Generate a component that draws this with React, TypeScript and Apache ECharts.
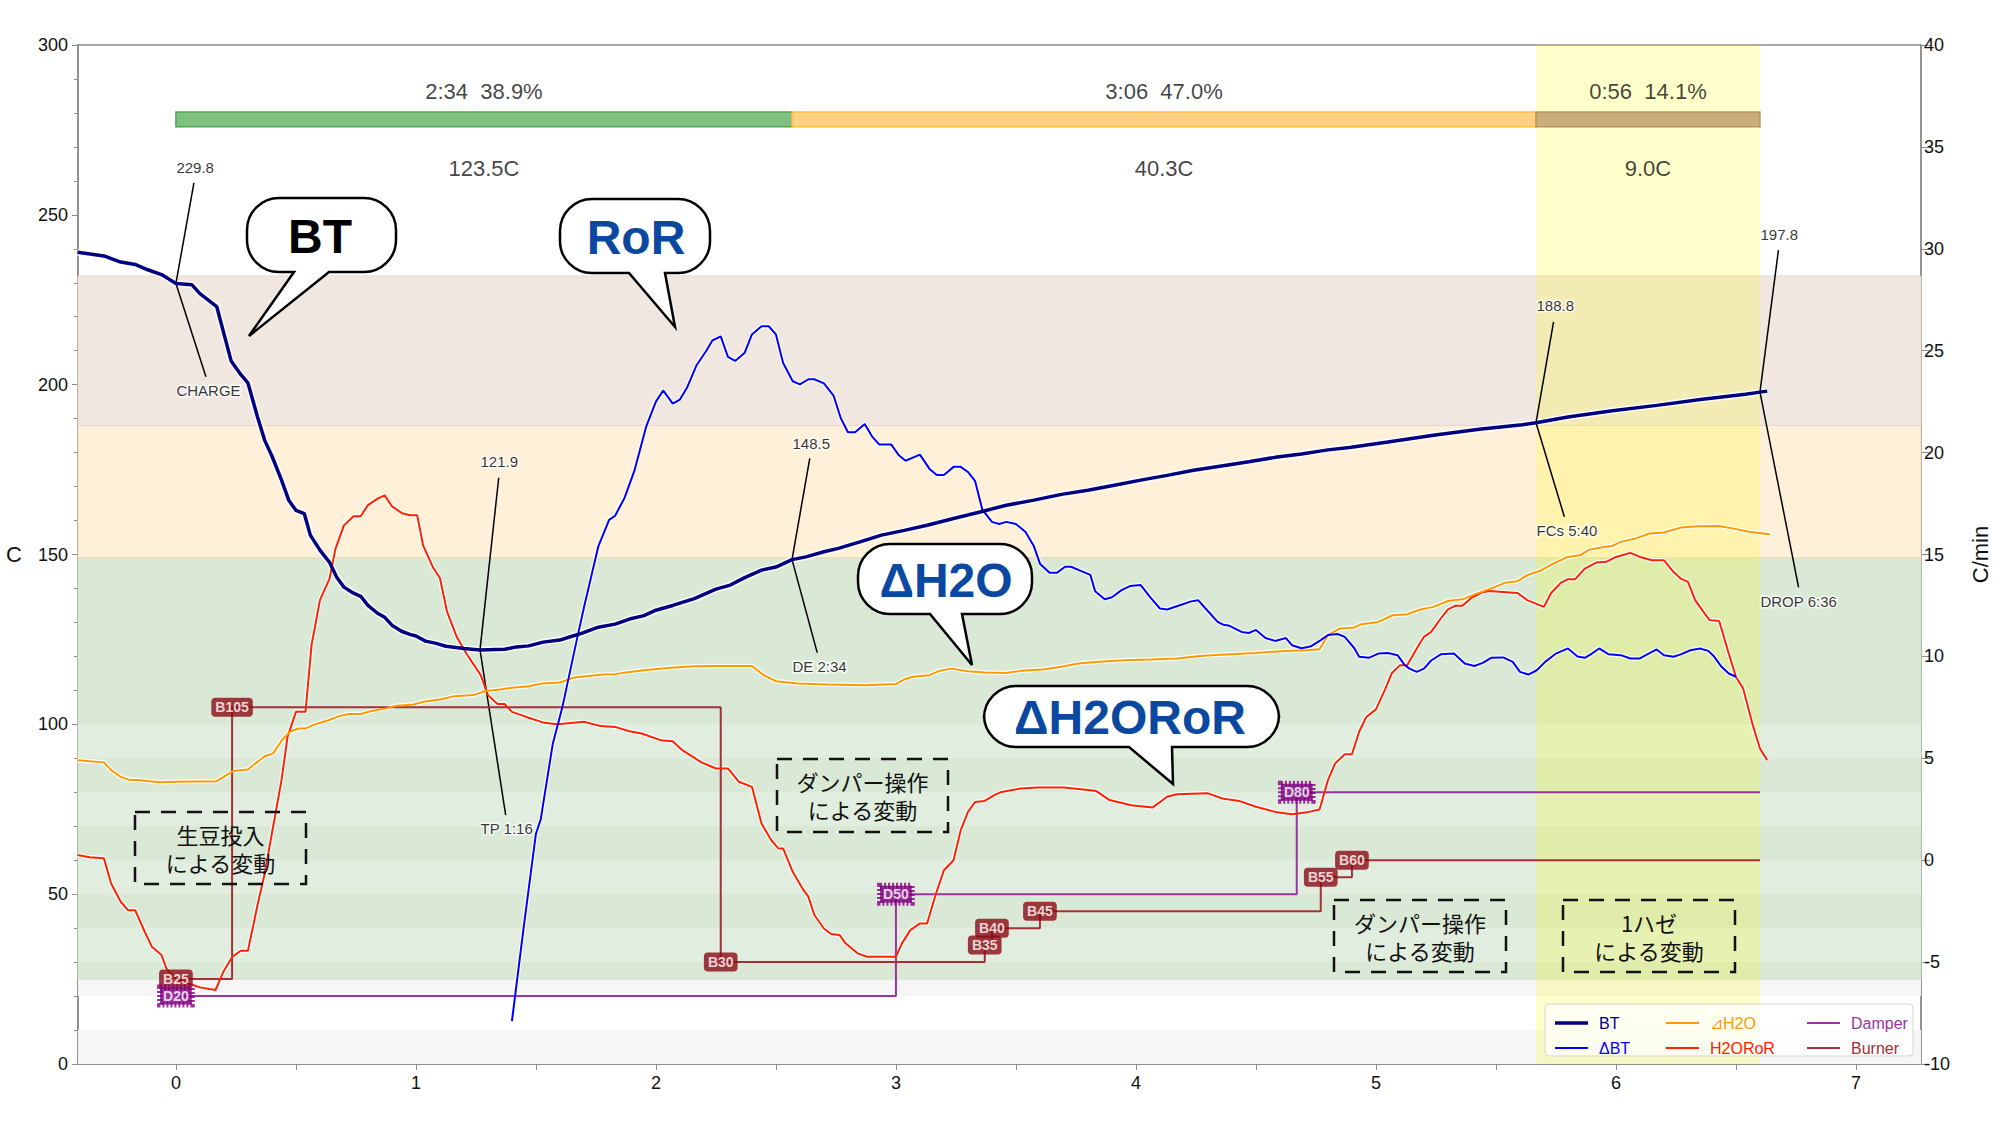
import React, { useEffect, useRef } from "react";
import * as echarts from "echarts";

// ---------------- data ----------------
const btData: number[][] = [[-0.41,239],[-0.30,237.9],[-0.23,236.1],[-0.17,235.4],[-0.12,233.9],[-0.06,232.4],[0,229.8],[0.067,229.4],[0.10,226.8],[0.17,223],[0.20,215],[0.23,207],[0.27,203],[0.30,200.5],[0.34,190.5],[0.37,183.6],[0.40,179],[0.44,171.9],[0.47,166],[0.50,163],[0.535,162],[0.56,155.7],[0.60,151.3],[0.64,147.7],[0.67,143.3],[0.70,140.4],[0.74,138.6],[0.77,137.7],[0.80,135],[0.84,132.7],[0.87,131.5],[0.90,129.2],[0.94,127.4],[0.975,126.5],[1.0,126],[1.04,124.5],[1.08,123.9],[1.125,123],[1.2,122.3],[1.267,121.9],[1.37,122.1],[1.42,122.8],[1.47,123.1],[1.53,124.2],[1.60,124.8],[1.64,125.7],[1.69,126.8],[1.76,128.6],[1.83,129.5],[1.89,131],[1.95,132],[2.0,133.6],[2.07,135],[2.16,137],[2.25,139.8],[2.31,141],[2.37,143.2],[2.44,145.4],[2.50,146.3],[2.567,148.5],[2.625,149.3],[2.70,150.8],[2.76,151.8],[2.85,153.7],[2.94,155.7],[3.035,157.1],[3.13,158.6],[3.24,160.6],[3.35,162.5],[3.46,164.5],[3.575,166],[3.69,167.7],[3.80,168.9],[3.91,170.4],[4.02,171.9],[4.13,173.3],[4.24,174.8],[4.35,176],[4.47,177.3],[4.58,178.6],[4.69,179.6],[4.80,180.8],[4.89,181.5],[5.05,183.1],[5.24,185.1],[5.43,186.9],[5.61,188.2],[5.667,188.8],[5.8,190.5],[5.985,192.3],[6.17,193.9],[6.36,195.7],[6.54,197.2],[6.6,197.8],[6.63,198.1]];

const deltaBtData: number[][] = [[1.40,-7.9],[1.45,-3.2],[1.50,1.3],[1.52,2.0],[1.57,5.7],[1.61,7.5],[1.67,10.8],[1.70,12.4],[1.76,15.4],[1.805,16.7],[1.83,16.9],[1.87,17.8],[1.91,19.1],[1.96,21.3],[2.0,22.5],[2.03,23.05],[2.07,22.4],[2.10,22.6],[2.13,23.2],[2.17,24.3],[2.21,25.0],[2.235,25.5],[2.27,25.7],[2.30,24.7],[2.33,24.5],[2.37,24.9],[2.40,25.8],[2.44,26.2],[2.47,26.2],[2.50,25.8],[2.53,24.4],[2.57,23.5],[2.60,23.35],[2.635,23.6],[2.66,23.6],[2.70,23.4],[2.74,22.8],[2.77,21.7],[2.80,21.0],[2.83,21.0],[2.87,21.4],[2.90,20.8],[2.93,20.4],[2.98,20.4],[3.01,19.9],[3.04,19.6],[3.10,19.9],[3.14,19.2],[3.17,18.9],[3.20,18.9],[3.24,19.3],[3.27,19.3],[3.30,19.05],[3.33,18.6],[3.36,17.2],[3.40,16.6],[3.43,16.5],[3.46,16.6],[3.50,16.5],[3.54,16.1],[3.575,15.4],[3.60,14.55],[3.64,14.1],[3.67,14.1],[3.705,14.4],[3.73,14.4],[3.77,14.2],[3.81,14.0],[3.83,13.2],[3.87,12.8],[3.90,12.9],[3.94,13.25],[3.975,13.45],[4.02,13.5],[4.06,12.9],[4.10,12.35],[4.13,12.3],[4.18,12.5],[4.23,12.7],[4.26,12.75],[4.29,12.35],[4.34,11.7],[4.365,11.55],[4.39,11.5],[4.44,11.2],[4.47,11.15],[4.50,11.3],[4.54,10.9],[4.58,10.76],[4.625,10.9],[4.65,10.55],[4.69,10.4],[4.73,10.5],[4.77,10.8],[4.80,11.05],[4.84,11.1],[4.87,10.96],[4.91,10.4],[4.93,9.98],[4.97,9.93],[5.01,10.14],[5.05,10.17],[5.09,10.06],[5.12,9.57],[5.14,9.4],[5.17,9.24],[5.20,9.4],[5.23,9.8],[5.27,10.1],[5.325,10.14],[5.37,9.65],[5.41,9.53],[5.445,9.68],[5.48,9.93],[5.53,9.95],[5.57,9.73],[5.60,9.24],[5.635,9.11],[5.67,9.32],[5.705,9.73],[5.75,10.14],[5.80,10.39],[5.84,10.0],[5.87,9.93],[5.90,10.14],[5.93,10.39],[5.97,10.1],[6.02,10.06],[6.06,9.9],[6.10,9.9],[6.13,10.1],[6.17,10.34],[6.20,10.06],[6.24,9.98],[6.27,10.1],[6.31,10.3],[6.35,10.39],[6.385,10.27],[6.41,9.98],[6.44,9.49],[6.47,9.16],[6.50,9.0]];

const deltaH2OData: number[][] = [[-0.41,4.91],[-0.30,4.8],[-0.27,4.42],[-0.23,4.09],[-0.19,3.93],[-0.16,3.93],[-0.07,3.82],[0.01,3.85],[0.17,3.88],[0.21,4.17],[0.24,4.38],[0.30,4.45],[0.34,4.83],[0.37,5.1],[0.405,5.24],[0.44,5.86],[0.475,6.3],[0.51,6.46],[0.54,6.46],[0.57,6.63],[0.605,6.76],[0.63,6.84],[0.68,7.07],[0.72,7.17],[0.77,7.17],[0.81,7.31],[0.875,7.45],[0.92,7.58],[0.99,7.64],[1.03,7.77],[1.10,7.89],[1.16,8.05],[1.24,8.1],[1.29,8.3],[1.35,8.38],[1.40,8.46],[1.47,8.54],[1.525,8.67],[1.60,8.72],[1.66,8.97],[1.72,9.04],[1.78,9.11],[1.83,9.13],[1.89,9.24],[1.95,9.32],[2.06,9.44],[2.16,9.52],[2.25,9.53],[2.40,9.53],[2.45,9.08],[2.50,8.78],[2.59,8.67],[2.72,8.62],[2.87,8.59],[3.0,8.64],[3.035,8.87],[3.07,9.0],[3.14,9.08],[3.18,9.29],[3.23,9.4],[3.30,9.27],[3.37,9.21],[3.46,9.19],[3.52,9.29],[3.61,9.36],[3.69,9.49],[3.76,9.65],[3.83,9.73],[3.95,9.81],[4.06,9.85],[4.17,9.9],[4.28,10.03],[4.39,10.11],[4.50,10.17],[4.62,10.27],[4.71,10.3],[4.765,10.35],[4.80,11.04],[4.85,11.37],[4.91,11.42],[4.94,11.58],[5.01,11.69],[5.07,12.02],[5.13,12.07],[5.185,12.3],[5.24,12.43],[5.30,12.72],[5.36,12.8],[5.42,13.08],[5.48,13.33],[5.54,13.62],[5.59,13.69],[5.63,13.98],[5.69,14.23],[5.74,14.56],[5.80,14.88],[5.85,14.96],[5.89,15.24],[5.95,15.37],[5.985,15.42],[6.02,15.62],[6.08,15.78],[6.14,16.03],[6.20,16.08],[6.27,16.32],[6.34,16.39],[6.43,16.4],[6.49,16.27],[6.56,16.1],[6.64,15.99]];

const h2oRorData: number[][] = [[-0.41,0.25],[-0.36,0.14],[-0.30,0.09],[-0.27,-1.14],[-0.23,-2.04],[-0.20,-2.45],[-0.17,-2.45],[-0.13,-3.51],[-0.10,-4.25],[-0.06,-4.65],[-0.04,-5.31],[0,-5.83],[0.05,-6.04],[0.10,-6.24],[0.165,-6.37],[0.20,-5.42],[0.235,-4.74],[0.27,-4.44],[0.30,-4.44],[0.34,-2.2],[0.37,-0.65],[0.41,1.97],[0.44,3.93],[0.465,6.05],[0.50,7.28],[0.54,7.28],[0.565,10.55],[0.60,12.76],[0.64,13.82],[0.665,15.29],[0.70,16.43],[0.74,16.88],[0.77,16.88],[0.80,17.42],[0.84,17.74],[0.87,17.9],[0.90,17.37],[0.94,17.04],[0.975,16.93],[1.005,16.93],[1.03,15.45],[1.07,14.39],[1.10,13.85],[1.13,12.18],[1.17,10.96],[1.21,10.14],[1.27,9.08],[1.30,8.1],[1.34,7.66],[1.37,7.66],[1.40,7.28],[1.46,7.03],[1.535,6.74],[1.59,6.67],[1.70,6.79],[1.77,6.58],[1.83,6.54],[1.89,6.33],[1.94,6.22],[2.02,5.89],[2.07,5.84],[2.11,5.4],[2.19,4.8],[2.25,4.5],[2.30,4.5],[2.345,3.85],[2.40,3.6],[2.44,1.8],[2.48,0.99],[2.51,0.58],[2.53,0.58],[2.57,-0.57],[2.61,-1.38],[2.635,-1.79],[2.66,-2.69],[2.70,-3.35],[2.73,-3.62],[2.765,-3.67],[2.79,-4.08],[2.84,-4.57],[2.88,-4.74],[3.0,-4.74],[3.025,-4.08],[3.06,-3.43],[3.10,-3.1],[3.13,-3.1],[3.165,-1.71],[3.20,-0.49],[3.24,0.0],[3.27,1.48],[3.30,2.37],[3.33,2.86],[3.37,2.91],[3.41,3.19],[3.44,3.35],[3.52,3.52],[3.59,3.57],[3.70,3.57],[3.80,3.44],[3.835,3.39],[3.89,2.95],[3.98,2.7],[4.07,2.59],[4.13,3.11],[4.17,3.24],[4.30,3.28],[4.36,3.03],[4.43,2.91],[4.50,2.62],[4.58,2.37],[4.65,2.25],[4.72,2.37],[4.765,2.49],[4.80,3.93],[4.83,4.75],[4.87,5.2],[4.90,5.2],[4.93,6.3],[4.96,7.03],[5.0,7.4],[5.04,8.43],[5.065,9.16],[5.10,9.57],[5.13,9.57],[5.17,10.39],[5.20,10.96],[5.23,11.2],[5.27,11.86],[5.30,12.31],[5.33,12.48],[5.36,12.48],[5.40,12.89],[5.44,13.13],[5.47,13.21],[5.59,13.11],[5.63,12.76],[5.70,12.43],[5.73,13.11],[5.77,13.61],[5.80,13.79],[5.83,13.79],[5.87,14.31],[5.92,14.61],[5.96,14.64],[6.0,14.88],[6.06,15.08],[6.10,14.88],[6.15,14.72],[6.20,14.72],[6.24,14.14],[6.27,13.82],[6.30,13.66],[6.33,12.76],[6.37,12.1],[6.39,11.78],[6.43,11.74],[6.47,10.14],[6.50,8.99],[6.53,8.43],[6.57,6.63],[6.60,5.48],[6.63,4.91]];

const burnerTimes = [0, 0.234, 2.27, 3.37, 3.40, 3.60, 4.77, 4.90];
const burnerValues = [25, 105, 30, 35, 40, 45, 55, 60];
const damperTimes = [0, 3.0, 4.67];
const damperValues = [20, 50, 80];

const eventNames = ["CHARGE", "TP 1:16", "DE 2:34", "FCs 5:40", "DROP 6:36"];
const eventTimes = [0, 1.267, 2.567, 5.667, 6.6];
const eventTemps = [229.8, 121.9, 148.5, 188.8, 197.8];

const phaseTimes = [0, 2.567, 5.667, 6.6];
const phaseDurations = ["2:34  38.9%", "3:06  47.0%", "0:56  14.1%"];
const phaseDeltas = ["123.5C", "40.3C", "9.0C"];

const xTickLabels = [0, 1, 2, 3, 4, 5, 6, 7];

// ---------------- layout (not data) ----------------
const annTempLabelY = [264, 177.3, 182.7, 223.2, 244.3];
const annEventLabelY = [198.4, 69.3, 116.9, 157.2, 136.3];
const annUpperEnd = [[0.075, 259.4], [1.345, 172.6], [2.641, 178.3], [5.74, 218.5], [6.677, 239.6]];
const annLowerEnd = [[0.125, 202.3], [1.374, 73.3], [2.672, 121.1], [5.785, 161.1], [6.761, 140.3]];

const FONT = '"Liberation Sans", Arial, sans-serif';
const JP = '"Noto Sans CJK JP", "Noto Sans CJK SC", sans-serif';
const NAVY = "#000080";
const BLUE = "#0000ff";
const ORANGE = "#ff9900";
const RED = "#ff2200";
const PURPLE = "#9a34a0";
const BURN = "#a33038";
const BUBBLE_BLUE = "#0b48a0";

const bubbles = [
  { text: "BT", color: "#000", box: [247, 198, 396, 272], tail: [294, 329, 249, 336], cx: 320, cy: 236 },
  { text: "RoR", color: BUBBLE_BLUE, box: [560, 199, 710, 273], tail: [629, 665, 675, 327], cx: 636, cy: 237 },
  { text: "ΔH2O", color: BUBBLE_BLUE, box: [858, 544, 1032, 614], tail: [930, 962, 972, 665], cx: 946, cy: 580 },
  { text: "ΔH2ORoR", color: BUBBLE_BLUE, box: [984, 686, 1279, 747], tail: [1129, 1172, 1173, 784], cx: 1130, cy: 717 },
];

const dashedBoxes = [
  { x: 135, y: 812, w: 171, h: 72, lines: ["生豆投入", "による変動"] },
  { x: 777, y: 759, w: 171, h: 73, lines: ["ダンパー操作", "による変動"] },
  { x: 1334, y: 900, w: 172, h: 72, lines: ["ダンパー操作", "による変動"] },
  { x: 1563, y: 900, w: 172, h: 72, lines: ["1ハゼ", "による変動"] },
];

function bubblePath(box: number[], tail: number[], r: number) {
  const [x0, y0, x1, y1] = box;
  const [a, b, tx, ty] = tail;
  const k = 0.5523 * r;
  return (
    `M${x0 + r},${y0} L${x1 - r},${y0} ` +
    `C${x1 - r + k},${y0} ${x1},${y0 + r - k} ${x1},${y0 + r} ` +
    `L${x1},${y1 - r} C${x1},${y1 - r + k} ${x1 - r + k},${y1} ${x1 - r},${y1} ` +
    `L${b},${y1} L${tx},${ty} L${a},${y1} L${x0 + r},${y1} ` +
    `C${x0 + r - k},${y1} ${x0},${y1 - r + k} ${x0},${y1 - r} ` +
    `L${x0},${y0 + r} C${x0},${y0 + r - k} ${x0 + r - k},${y0} ${x0 + r},${y0} Z`
  );
}

bubbles.forEach((b, i) => {
  echarts.graphic.registerShape("speech" + i, echarts.graphic.extendPath(bubblePath(b.box, b.tail, 32), {}) as any);
});

function stepData(times: number[], values: number[], end: number) {
  const d = times.map((t, i) => [t, values[i]]);
  d.push([end, values[values.length - 1]]);
  return d;
}

function buildOption(): any {
  const dropTime = phaseTimes[3];
  const fcTime = phaseTimes[2];

  const baseLine = (name: string, data: number[][], color: string, width: number, yIdx: number, z: number) => ({
    type: "line", name, data, yAxisIndex: yIdx, showSymbol: false, symbol: "none", silent: true, z,
    lineStyle: { color, width }, itemStyle: { color },
  });
  const halo = (data: number[][], width: number, yIdx: number) => ({
    type: "line", name: "_halo", data, yAxisIndex: yIdx, showSymbol: false, symbol: "none", silent: true, z: 4,
    lineStyle: { color: "rgba(255,255,255,0.9)", width },
  });

  const bandArea = (lo: number, hi: number, color: string, border?: string) => [
    { yAxis: lo, itemStyle: { color, borderColor: border || color, borderWidth: border ? 1 : 0 } },
    { yAxis: hi },
  ];

  const markerLabel = (bg: string, dotted: boolean) => ({
    show: true, position: "inside", formatter: "{b}", color: "#fff", fontWeight: "bold", fontSize: 14,
    fontFamily: FONT, backgroundColor: bg, padding: dotted ? [2, 3, 1, 3] : [3, 4, 2, 4], borderRadius: dotted ? 0 : 4,
    borderColor: dotted ? bg : undefined, borderWidth: dotted ? 3 : 0, borderType: dotted ? [2, 2] : "solid",
  });

  const burnerMarks = burnerTimes.map((t, i) => ({ value: [t, burnerValues[i]], name: "B" + burnerValues[i] }));
  const damperMarks = damperTimes.map((t, i) => ({ value: [t, damperValues[i]], name: "D" + damperValues[i] }));

  const annLabels = [
    ...eventTimes.map((t, i) => ({ value: [t, annTempLabelY[i]], name: eventTemps[i].toFixed(1) })),
    ...eventTimes.map((t, i) => ({ value: [t, annEventLabelY[i]], name: eventNames[i] })),
  ];
  const annLines = eventTimes.flatMap((t, i) => [
    [{ coord: [t, eventTemps[i]] }, { coord: annUpperEnd[i] }],
    [{ coord: [t, eventTemps[i]] }, { coord: annLowerEnd[i] }],
  ]);

  const phaseCenters = phaseDurations.map((_, i) => (phaseTimes[i] + phaseTimes[i + 1]) / 2);
  const phaseTop = phaseCenters.map((c, i) => ({ value: [c, 286.3], name: phaseDurations[i] }));
  const phaseBottom = phaseCenters.map((c, i) => ({ value: [c, 263.5], name: phaseDeltas[i] }));
  const phaseColors = [
    ["#80c080", "#4ea64e"],
    ["#ffd27f", "#ffbd45"],
    ["#c9ae7b", "#b8955c"],
  ];

  const minorTicks: number[] = [];
  for (let v = 0; v <= 7; v += 0.5) minorTicks.push(v);

  const legendCol = (left: number, items: [string, string, number][]) => ({
    orient: "vertical", left, top: 1010, itemWidth: 33, itemHeight: 14, itemGap: 9, selectedMode: false, z: 60,
    textStyle: { fontSize: 16, fontFamily: FONT, padding: [0, 0, 0, 6] },
    data: items.map(([name, color, w]) => ({
      name, textStyle: { color },
      icon: `path://M0,0H33V${w}H0Z`,
      itemStyle: { color },
    })),
  });

  const graphics: any[] = [];
  graphics.push({
    type: "rect", z: 40, silent: true,
    shape: { x: 1545, y: 1004, width: 368, height: 52, r: 4 },
    style: { fill: "rgba(255,255,255,0.72)", stroke: "#d6d6d6", lineWidth: 1 },
  });
  bubbles.forEach((b, i) => {
    graphics.push({ type: "speech" + i, x: 0, y: 0, z: 50, silent: true, style: { fill: "#fff", stroke: "#000", lineWidth: 2.5 } });
    graphics.push({
      type: "text", z: 51, silent: true,
      style: { text: b.text, x: b.cx, y: b.cy, align: "center", verticalAlign: "middle", fill: b.color, font: `bold 48px ${FONT}` },
    });
  });
  dashedBoxes.forEach((d) => {
    graphics.push({
      type: "rect", z: 50, silent: true, shape: { x: d.x, y: d.y, width: d.w, height: d.h },
      style: { fill: "none", stroke: "#111", lineWidth: 2.5, lineDash: [15, 11] },
    });
    d.lines.forEach((line, j) => {
      graphics.push({
        type: "text", z: 51, silent: true,
        style: { text: line, x: d.x + d.w / 2, y: d.y + 22 + j * 28, align: "center", verticalAlign: "middle", fill: "#111", font: `22px ${JP}` },
      });
    });
  });

  return {
    animation: false,
    backgroundColor: "#fff",
    textStyle: { fontFamily: FONT },
    grid: { left: 78, right: 79, top: 45, bottom: 65, show: true, borderColor: "#8c8c8c", borderWidth: 1.5, backgroundColor: "transparent" },
    legend: [
      legendCol(1550, [["BT", NAVY, 3.5], ["ΔBT", BLUE, 2]]),
      legendCol(1661, [["⊿H2O", ORANGE, 2], ["H2ORoR", RED, 2]]),
      legendCol(1802, [["Damper", PURPLE, 2], ["Burner", BURN, 2]]),
    ],
    xAxis: {
      type: "value", min: -0.408, max: 7.271, position: "bottom",
      axisLine: { show: true, onZero: false, lineStyle: { color: "#8c8c8c", width: 1.5 } },
      axisTick: { show: true, customValues: minorTicks, length: 6, lineStyle: { color: "#8c8c8c" } },
      axisLabel: { customValues: xTickLabels, fontSize: 18, color: "#111", margin: 10 },
      splitLine: { show: false },
    },
    yAxis: [
      {
        type: "value", min: 0, max: 300, interval: 50, position: "left",
        name: "C", nameLocation: "middle", nameGap: 56, nameRotate: 0, nameTextStyle: { fontSize: 22, color: "#111" },
        axisLine: { show: true, onZero: false, lineStyle: { color: "#8c8c8c", width: 1.5 } },
        axisTick: { show: true, length: 6, lineStyle: { color: "#8c8c8c" } },
        minorTick: { show: true, splitNumber: 5, length: 4, lineStyle: { color: "#8c8c8c" } },
        axisLabel: { fontSize: 18, color: "#111", margin: 10 },
        splitLine: { show: false },
      },
      {
        type: "value", min: -10, max: 40, interval: 5, position: "right",
        name: "C/min", nameLocation: "middle", nameGap: 48, nameRotate: 90, nameTextStyle: { fontSize: 22, color: "#111" },
        axisLine: { show: true, onZero: false, lineStyle: { color: "#8c8c8c", width: 1.5 } },
        axisTick: { show: true, length: 9, lineStyle: { color: "#8c8c8c" } },
        axisLabel: { fontSize: 18, color: "#111", margin: 3 },
        splitLine: { show: false },
      },
    ],
    graphic: graphics,
    series: [
      {
        type: "line", name: "_bands", data: [], yAxisIndex: 0, z: 1, silent: true,
        markArea: {
          silent: true,
          data: [
            bandArea(0, 10, "#f6f6f6"),
            bandArea(20, 25, "#f6f6f6"),
            bandArea(25, 149, "#d9e9d5", "#cfe2cb"),
            bandArea(30, 40, "#e1eedf"),
            bandArea(50, 60, "#e1eedf"),
            bandArea(70, 80, "#e1eedf"),
            bandArea(90, 100, "#e1eedf"),
            bandArea(149, 188, "#fff1d9", "#ead6b2"),
            bandArea(188, 232, "#f0e7e1", "#e7d8cc"),
          ],
        },
      },
      {
        type: "line", name: "_fc", data: [], yAxisIndex: 0, z: 2, silent: true,
        markArea: { silent: true, data: [[{ xAxis: fcTime, itemStyle: { color: "rgba(255,255,0,0.2)" } }, { xAxis: dropTime }]] },
      },
      {
        type: "line", name: "_phases", data: [], yAxisIndex: 0, z: 3, silent: true,
        markArea: {
          silent: true,
          data: phaseDurations.map((_, i) => [
            { xAxis: phaseTimes[i], yAxis: 275.9, itemStyle: { color: phaseColors[i][0], borderColor: phaseColors[i][1], borderWidth: 1.5 } },
            { xAxis: phaseTimes[i + 1], yAxis: 280.3 },
          ]),
        },
      },
      halo(h2oRorData, 4.5, 1),
      halo(deltaH2OData, 4.5, 1),
      halo(deltaBtData, 4.5, 1),
      halo(btData, 6.5, 0),
      { ...baseLine("Damper", stepData(damperTimes, damperValues, dropTime), PURPLE, 2, 0, 5), step: "end" },
      { ...baseLine("Burner", stepData(burnerTimes, burnerValues, dropTime), BURN, 2, 0, 5), step: "end" },
      baseLine("H2ORoR", h2oRorData, RED, 2, 1, 6),
      baseLine("⊿H2O", deltaH2OData, ORANGE, 2, 1, 6),
      baseLine("ΔBT", deltaBtData, BLUE, 2, 1, 6),
      {
        ...baseLine("BT", btData, NAVY, 3.5, 0, 7),
        markLine: {
          silent: true, symbol: ["none", "none"], label: { show: false },
          lineStyle: { color: "#000", width: 1.5, type: "solid" },
          emphasis: { disabled: true },
          data: annLines,
        },
      },
      {
        type: "scatter", name: "_phaseText", yAxisIndex: 0, z: 8, silent: true, symbolSize: 1,
        itemStyle: { color: "transparent" },
        data: [...phaseTop, ...phaseBottom],
        label: { show: true, position: "inside", formatter: "{b}", fontSize: 22, color: "#111", fontFamily: FONT },
      },
      {
        type: "scatter", name: "_ann", yAxisIndex: 0, z: 9, silent: true, symbolSize: 1,
        itemStyle: { color: "transparent" },
        data: annLabels,
        label: { show: true, position: "right", distance: 0, formatter: "{b}", fontSize: 15, color: "#000", fontFamily: FONT, textBorderColor: "#fff", textBorderWidth: 3 },
      },
      {
        type: "scatter", name: "_burnerMarks", yAxisIndex: 0, z: 10, silent: true, symbolSize: 1,
        itemStyle: { color: "transparent" }, data: burnerMarks, label: markerLabel("#8b0a14", false),
      },
      {
        type: "scatter", name: "_damperMarks", yAxisIndex: 0, z: 10, silent: true, symbolSize: 1,
        itemStyle: { color: "transparent" }, data: damperMarks, label: markerLabel("#820082", true),
      },
    ],
  };
}

export default function App() {
  const ref = useRef<HTMLDivElement>(null);
  useEffect(() => {
    if (!ref.current) return;
    const chart = echarts.init(ref.current, null, { renderer: "svg" });
    chart.setOption(buildOption());
    return () => chart.dispose();
  }, []);
  return (
    <div
      ref={ref}
      style={{ position: "fixed", left: 0, top: 0, width: 2000, height: 1129, background: "#fff" }}
    />
  );
}
